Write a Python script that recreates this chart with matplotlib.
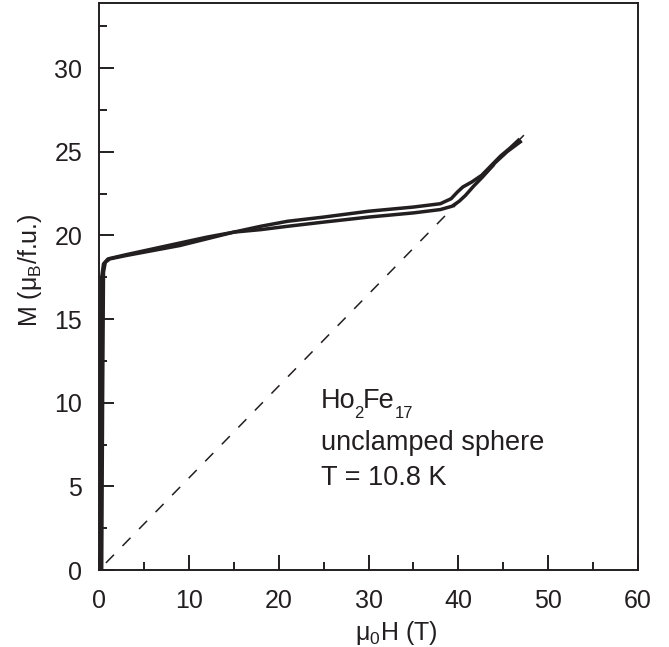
import matplotlib
matplotlib.use("Agg")
import matplotlib.pyplot as plt
from matplotlib.ticker import MultipleLocator

plt.rcParams['font.family'] = ['Liberation Sans', 'DejaVu Sans']
plt.rcParams['mathtext.fontset'] = 'custom'
plt.rcParams['mathtext.rm'] = 'Liberation Sans'
plt.rcParams['mathtext.it'] = 'Liberation Sans'

# Branch A (upper at high field)
xa = [0.1, 0.2, 0.3, 0.5, 1.0, 3, 6, 9, 12, 15, 18, 21, 25, 30, 35, 38, 39.2, 39.9, 40.5, 41.5, 42.6, 43.6, 44.7, 45.7, 46.7]
ya = [0, 10, 17.5, 18.3, 18.6, 18.85, 19.2, 19.55, 19.9, 20.2, 20.55, 20.85, 21.1, 21.45, 21.7, 21.9, 22.2, 22.6, 22.9, 23.2, 23.6, 24.15, 24.75, 25.2, 25.7]
# Branch B (lower at high field)
xb = [0.3, 0.4, 0.5, 0.7, 1.2, 3, 6, 9, 12, 15, 18, 21, 25, 30, 35, 38, 39.3, 40.1, 40.8, 41.7, 42.7, 44.1, 45.4, 46.9]
yb = [0, 10, 17.8, 18.4, 18.6, 18.8, 19.1, 19.4, 19.8, 20.2, 20.35, 20.55, 20.8, 21.1, 21.35, 21.55, 21.75, 22.05, 22.4, 22.95, 23.5, 24.35, 25.0, 25.6]
# Dashed linear reference
xd = [0, 47.3]
yd = [0, 26.0]

xticks = [0, 10, 20, 30, 40, 50, 60]
yticks = [0, 5, 10, 15, 20, 25, 30]

fig = plt.figure(figsize=(6.69, 6.47), dpi=100)
ax = fig.add_axes([99/669, 77/647, (638-99)/669, (570-3)/647])

col = '#231f20'
ax.plot(xd, yd, ls=(9, (7.5, 8)), color=col, lw=1.1)
ax.plot(xa, ya, color=col, lw=2.5, solid_joinstyle='round')
ax.plot(xb, yb, color=col, lw=2.5, solid_joinstyle='round')

ax.set_xlim(0, 60)
ax.set_ylim(0, 33.9)
ax.set_xticks(xticks)
ax.set_yticks(yticks)
ax.xaxis.set_minor_locator(MultipleLocator(5))
ax.yaxis.set_minor_locator(MultipleLocator(2.5))
ax.tick_params(which='both', direction='in', top=False, right=False, colors=col,
               labelsize=18, width=1.4)
ax.tick_params(which='major', length=10.8)
ax.tick_params(which='minor', length=5.5)
ax.tick_params(axis='x', pad=14)
ax.tick_params(axis='y', pad=12)
for s in ax.spines.values():
    s.set_linewidth(1.4)
    s.set_color(col)

ax.set_xlabel(r'μ$_0$H (T)', fontsize=18, color=col)
ax.xaxis.set_label_coords((396-99)/539, -(619-570)/567)
ax.set_ylabel(r'M (μ$_\mathrm{B}$/f.u.)', fontsize=18, color=col)
ax.yaxis.set_label_coords(-(99-44)/539, (570-270)/567)

fs = 19.5
fsub = 12
def px(xp, yp):
    return ((xp-99)/539, (570-yp)/567)
kw = dict(transform=ax.transAxes, color=col, va='baseline')
ax.text(*px(321, 408), 'Ho', fontsize=fs, **kw)
ax.text(*px(354, 418), '2', fontsize=fsub, **kw)
ax.text(*px(363, 408), 'Fe', fontsize=fs, **kw)
ax.text(*px(395, 418), '17', fontsize=fsub, **kw)
ax.text(*px(321, 450), 'unclamped sphere', fontsize=fs, **kw)
ax.text(*px(321, 485), 'T = 10.8 K', fontsize=fs, **kw)

fig.savefig('out.png', dpi=100)
